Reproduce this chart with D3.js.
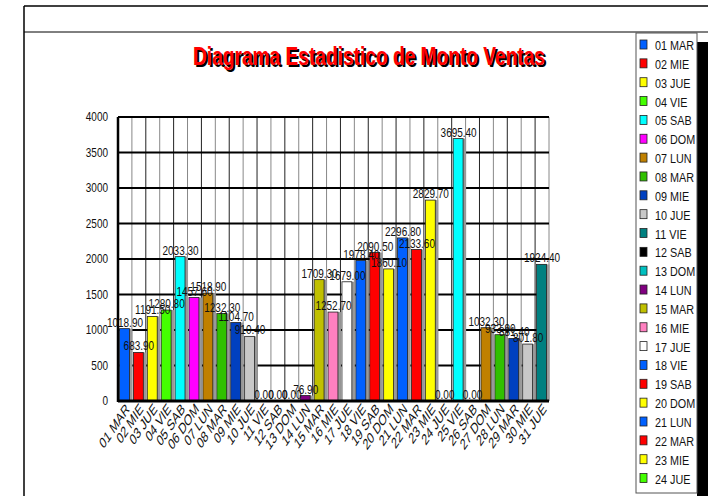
<!DOCTYPE html>
<html>
<head>
<meta charset="utf-8">
<script src="https://cdn.jsdelivr.net/npm/d3@7/dist/d3.min.js"></script>
<style>
  body { margin: 0; background: #fff; }
  svg { display: block; }
  text { font-family: "Liberation Sans", Arial, sans-serif; }
</style>
</head>
<body>
<div id="chart"></div>
<script>
// dias y montos
const days = ["01 MAR","02 MIE","03 JUE","04 VIE","05 SAB","06 DOM","07 LUN","08 MAR","09 MIE","10 JUE",
  "11 VIE","12 SAB","13 DOM","14 LUN","15 MAR","16 MIE","17 JUE","18 VIE","19 SAB","20 DOM",
  "21 LUN","22 MAR","23 MIE","24 JUE","25 VIE","26 SAB","27 DOM","28 LUN","29 MAR","30 MIE","31 JUE"];
const montos = [1018.90, 683.90, 1191.50, 1280.80, 2033.30, 1457.60, 1518.90, 1232.30, 1104.70, 910.40,
  0.00, 0.00, 0.00, 76.90, 1709.30, 1252.70, 1679.00, 1978.40, 2090.50, 1860.10,
  2296.80, 2133.60, 2829.70, 0.00, 3695.40, 0.00, 1032.30, 933.90, 881.40, 801.80, 1924.40];
const yTicks = [0, 500, 1000, 1500, 2000, 2500, 3000, 3500, 4000];
const palette = ["#0060ff","#ff0000","#ffff00","#44ff00","#00ffff","#ff00ff","#c08000","#30c000",
  "#0040c0","#c8c8c8","#008080","#000000","#00c0c0","#800080","#c0c000","#ff80c0","#ffffff",
  "#0060ff","#ff0000","#ffff00"];
const legendCount = 24;

let width = 708, height = 496;
let svg = d3.select("#chart").append("svg")
    .attr("width", width)
    .attr("height", height);

// letra angosta (no hay Arial Narrow)
let narrow = 0.8;

// marco
svg.append("line").attr("x1", 24).attr("y1", 6).attr("x2", 708).attr("y2", 6).attr("stroke", "black").attr("stroke-width", 1.5);
svg.append("line").attr("x1", 24).attr("y1", 6).attr("x2", 24).attr("y2", 496).attr("stroke", "black").attr("stroke-width", 1.5);
svg.append("line").attr("x1", 24).attr("y1", 32).attr("x2", 708).attr("y2", 32).attr("stroke", "black").attr("stroke-width", 1);

// titulo
let title = "Diagrama Estadistico de Monto Ventas";
svg.append("text").attr("x", 371).attr("y", 67).attr("text-anchor", "middle")
    .attr("font-size", 25).attr("font-weight", "bold").attr("fill", "black")
    .attr("textLength", 352).attr("lengthAdjust", "spacingAndGlyphs").text(title);
svg.append("text").attr("x", 369).attr("y", 65).attr("text-anchor", "middle")
    .attr("font-size", 25).attr("font-weight", "bold").attr("fill", "#ff0000")
    .attr("textLength", 352).attr("lengthAdjust", "spacingAndGlyphs").text(title);

let pLeft = 118, pRight = 549, pTop = 117, pBottom = 401;

let y = d3.scaleLinear().domain([0, 4000]).range([pBottom, pTop]);
let x = d3.scaleBand().domain(days).range([pLeft, pRight]).paddingInner(0).paddingOuter(0);
let step = x.step();

let g = svg.append("g");

// rejilla vertical
g.selectAll(".vgrid")
    .data(d3.range(days.length + 1))
    .enter()
    .append("line")
    .attr("x1", i => pLeft + i * step)
    .attr("x2", i => pLeft + i * step)
    .attr("y1", pTop)
    .attr("y2", pBottom)
    .attr("stroke", (d, i) => i % 2 ? "#888" : "#222")
    .attr("stroke-width", 1);

// rejilla horizontal
g.selectAll(".hgrid")
    .data(yTicks)
    .enter()
    .append("line")
    .attr("x1", pLeft)
    .attr("x2", pRight)
    .attr("y1", d => y(d))
    .attr("y2", d => y(d))
    .attr("stroke", "black")
    .attr("stroke-width", 2);

g.append("line").attr("x1", pLeft).attr("x2", pLeft).attr("y1", pTop).attr("y2", pBottom + 1)
    .attr("stroke", "black").attr("stroke-width", 2.5);

// barras
let xb = d => x(d) + 1.5;
let bw = x.bandwidth() - 3;

g.selectAll(".shadow")
    .data(days)
    .enter()
    .append("rect")
    .attr("x", d => xb(d) + 2)
    .attr("y", (d, i) => y(montos[i]))
    .attr("width", bw)
    .attr("height", (d, i) => pBottom - y(montos[i]))
    .attr("fill", "#999");

g.selectAll(".bar")
    .data(days)
    .enter()
    .append("rect")
    .attr("x", d => xb(d))
    .attr("y", (d, i) => y(montos[i]))
    .attr("width", bw - 1)
    .attr("height", (d, i) => pBottom - y(montos[i]))
    .attr("fill", (d, i) => palette[i % palette.length])
    .attr("stroke", "#222")
    .attr("stroke-width", 0.8);

g.append("line").attr("x1", pLeft).attr("x2", pRight).attr("y1", pBottom).attr("y2", pBottom)
    .attr("stroke", "black").attr("stroke-width", 3);

// etiquetas de valor
g.selectAll(".val")
    .data(days)
    .enter()
    .append("text")
    .attr("transform", (d, i) => `translate(${xb(d) + bw / 2},${y(montos[i]) - 2}) scale(${narrow},1)`)
    .attr("text-anchor", "middle")
    .attr("font-size", 12.5)
    .attr("fill", "#111")
    .text((d, i) => montos[i].toFixed(2));

// eje y
g.selectAll(".ytick")
    .data(yTicks)
    .enter()
    .append("text")
    .attr("transform", d => `translate(108,${y(d) + 4}) scale(${narrow},1)`)
    .attr("text-anchor", "end")
    .attr("font-size", 12.5)
    .attr("fill", "#111")
    .text(d => d);

// eje x (texto a 45 grados comprimido en horizontal)
g.selectAll(".xlab")
    .data(days)
    .enter()
    .append("text")
    .attr("transform", d => `translate(${xb(d) + bw / 2 + 5},${pBottom + 9}) scale(0.667,1) rotate(-45)`)
    .attr("text-anchor", "end")
    .attr("font-size", 15.5)
    .attr("fill", "#111")
    .text(d => d);

// leyenda
svg.append("rect").attr("x", 697).attr("y", 42).attr("width", 11).attr("height", 454).attr("fill", "black");
svg.append("rect").attr("x", 636).attr("y", 33).attr("width", 61).attr("height", 460)
    .attr("fill", "white").attr("stroke", "#555").attr("stroke-width", 1);

let legend = svg.selectAll(".leg")
    .data(days.slice(0, legendCount))
    .enter()
    .append("g")
    .attr("transform", (d, i) => `translate(640,${45 + i * 18.85})`);

legend.append("rect")
    .attr("x", 0).attr("y", -5)
    .attr("width", 7).attr("height", 9)
    .attr("fill", (d, i) => palette[i % palette.length])
    .attr("stroke", "#222").attr("stroke-width", 0.8);

legend.append("text")
    .attr("transform", `translate(15,5) scale(${narrow},1)`)
    .attr("font-size", 13.5)
    .attr("fill", "#111")
    .text(d => d);
</script>
</body>
</html>
